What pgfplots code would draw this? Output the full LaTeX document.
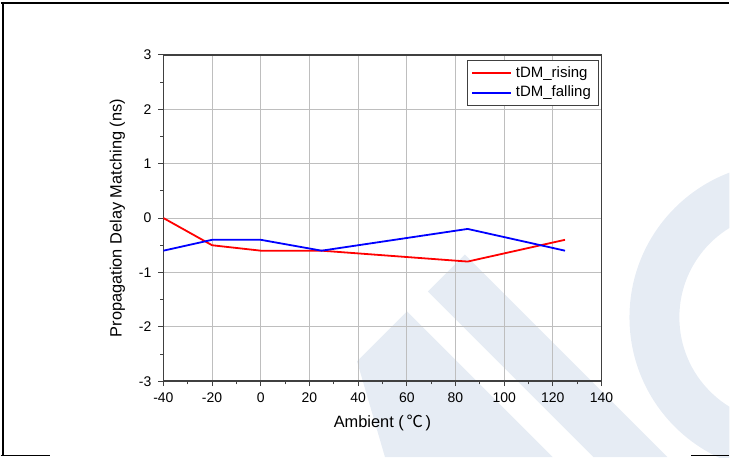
\documentclass[border=0pt]{standalone}
\usepackage{fontspec}
\setmainfont{Liberation Sans}
\newfontfamily\cjk{Noto Sans CJK SC}
\usepackage{pgfplots}
\pgfplotsset{compat=1.18}
\definecolor{wm}{HTML}{E6ECF4}
\definecolor{gridc}{RGB}{190,190,190}
\begin{document}
\begin{tikzpicture}
\begin{scope}[x=0.5pt,y=-0.5pt,shift={(0pt,229pt)}]
  \path[use as bounding box] (0,0) rectangle (730,458);
  \begin{scope}
    \clip (0,0) rectangle (730,458);
    \fill[wm] (428,292) -- (465,255) -- (668,458) -- (594,458) -- cycle;
    \fill[wm] (357,362) -- (407,312) -- (553,458) -- (385,458) -- cycle;
    \fill[wm, even odd rule] (785,318) circle[radius=155] (785,318) circle[radius=105];
  \end{scope}
\end{scope}
\begin{axis}[
  at={(81.5pt,38pt)}, anchor=south west,
  width=219.5pt, height=163.5pt, scale only axis,
  xmin=-40, xmax=140, ymin=-3, ymax=3,
  xtick distance=20, ytick distance=1,
  minor x tick num=1, minor y tick num=1,
  xtick pos=bottom, ytick pos=left,
  tick align=outside,
  major tick length=2.5pt, minor tick length=1.6pt,
  every tick/.style={black!75, line width=0.5pt},
  axis line style={black!75, line width=0.8pt},
  grid=major,
  major grid style={gridc, line width=0.5pt},
  /pgf/number format/assume math mode=true,
  tick label style={font=\fontsize{7}{8}\selectfont},
  xticklabel style={yshift=0.5pt},
  xlabel={Ambient (\,{\cjk ℃}\,)},
  ylabel={Propagation Delay Matching (ns)},
  label style={font=\fontsize{8.2}{10}\selectfont},
  xlabel style={at={(axis description cs:0.5,-0.128)}, anchor=center},
  ylabel style={at={(axis description cs:-0.105,0.5)}, anchor=center},
  legend style={at={(0.995,0.985)}, anchor=north east,
    font=\fontsize{7.5}{9}\selectfont, draw=black!75, line width=0.5pt,
    inner xsep=2pt, inner ysep=1pt, row sep=-1pt, cells={anchor=west}},
  legend image code/.code={\draw[#1] (0pt,0pt) -- (19.5pt,0pt);},
]
\addplot[red, line width=0.9pt] coordinates {(-40,0) (-20,-0.5) (0,-0.6) (25,-0.6) (85,-0.8) (125,-0.4)};
\addlegendentry{tDM\_rising}
\addplot[blue, line width=0.9pt] coordinates {(-40,-0.6) (-20,-0.4) (0,-0.4) (25,-0.6) (85,-0.2) (125,-0.6)};
\addlegendentry{tDM\_falling}
\end{axis}
\begin{scope}[x=0.5pt,y=-0.5pt,shift={(0pt,229pt)}]
  \draw[line width=0.75pt] (0,3) -- (730,3);
  \draw[line width=1pt] (2,3) -- (2,457);
  \draw[line width=0.75pt] (0,456.5) -- (49,456.5);
  \draw[line width=0.75pt] (692,456.5) -- (730,456.5);
\end{scope}
\end{tikzpicture}
\end{document}
